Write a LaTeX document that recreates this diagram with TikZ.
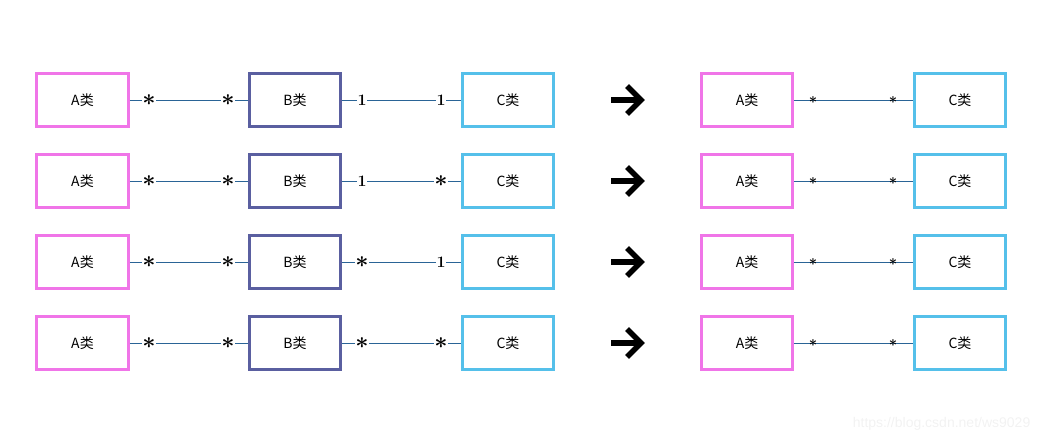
\documentclass[tikz,border=0pt]{standalone}
\usepackage{amsmath}
\usepackage{fontspec}
\newfontfamily\cjk{Noto Sans CJK SC}
\newfontfamily\wmfont{Liberation Sans}
\definecolor{apink}{HTML}{F075E8}
\definecolor{bblue}{HTML}{5A5FA0}
\definecolor{ccyan}{HTML}{55C0EA}
\definecolor{lineblue}{HTML}{2A6496}
\newcommand\myast{{\fontsize{17}{17}\selectfont$\boldsymbol{\ast}$}}
\newcommand\myone{{\fontsize{13}{13}\selectfont$\boldsymbol{1}$}}
\begin{document}
\begin{tikzpicture}[x=0.75pt,y=-0.75pt,
  cls/.style={draw, line width=2.25pt, fill=white, minimum width=91.5*0.75pt, minimum height=53.5*0.75pt, inner sep=0pt, font=\cjk\fontsize{10.5}{12}\selectfont},
  aclass/.style={cls, draw=apink},
  bclass/.style={cls, draw=bblue},
  cclass/.style={cls, draw=ccyan},
  assoc/.style={draw=lineblue, line width=0.75pt},
  mult/.style={fill=white, inner sep=0.3pt},
  smult/.style={inner sep=0.4pt, font=\fontsize{11}{11}\selectfont},
  bigarrow/.style={line width=4.2pt, black, line join=miter, line cap=butt}
]
\useasboundingbox (0,0) rectangle (1044,443);
\foreach \r/\y/\la/\lb/\lc/\ld in {1/100/\myast/\myast/\myone/\myone, 2/181/\myast/\myast/\myone/\myast, 3/262/\myast/\myast/\myast/\myone, 4/343/\myast/\myast/\myast/\myast}{
  \node[aclass] (a\r) at (82.5,\y) {A类};
  \node[bclass] (b\r) at (295,\y) {B类};
  \node[cclass] (c\r) at (508,\y) {C类};
  \node[aclass] (ra\r) at (747,\y) {A类};
  \node[cclass] (rc\r) at (960,\y) {C类};
  \draw[assoc] (a\r) -- (b\r);
  \draw[assoc] (b\r) -- (c\r);
  \draw[assoc] (ra\r) -- (rc\r);
  \node[mult] (m1\r) at (149,\y) {\la};
  \node[mult] (m2\r) at (228,\y) {\lb};
  \node[mult] (m3\r) at (362,\y) {\lc};
  \node[mult] (m4\r) at (441,\y) {\ld};
  \node[smult] (m5\r) at (813,\y) {$\boldsymbol{\ast}$};
  \node[smult] (m6\r) at (893,\y) {$\boldsymbol{\ast}$};
  \coordinate (s\r) at (611,\y);
  \coordinate (e\r) at (641,\y);
  \coordinate (h1\r) at (627,\y-14);
  \coordinate (h2\r) at (627,\y+14);
  \draw[bigarrow] (s\r) -- (e\r);
  \draw[bigarrow] (h1\r) -- (e\r) -- (h2\r);
}
\node[text=black!5, font=\wmfont\fontsize{10.5}{12}\selectfont, anchor=east] (wm) at (1035,424) {https://blog.csdn.net/ws9029};
\end{tikzpicture}
\end{document}
